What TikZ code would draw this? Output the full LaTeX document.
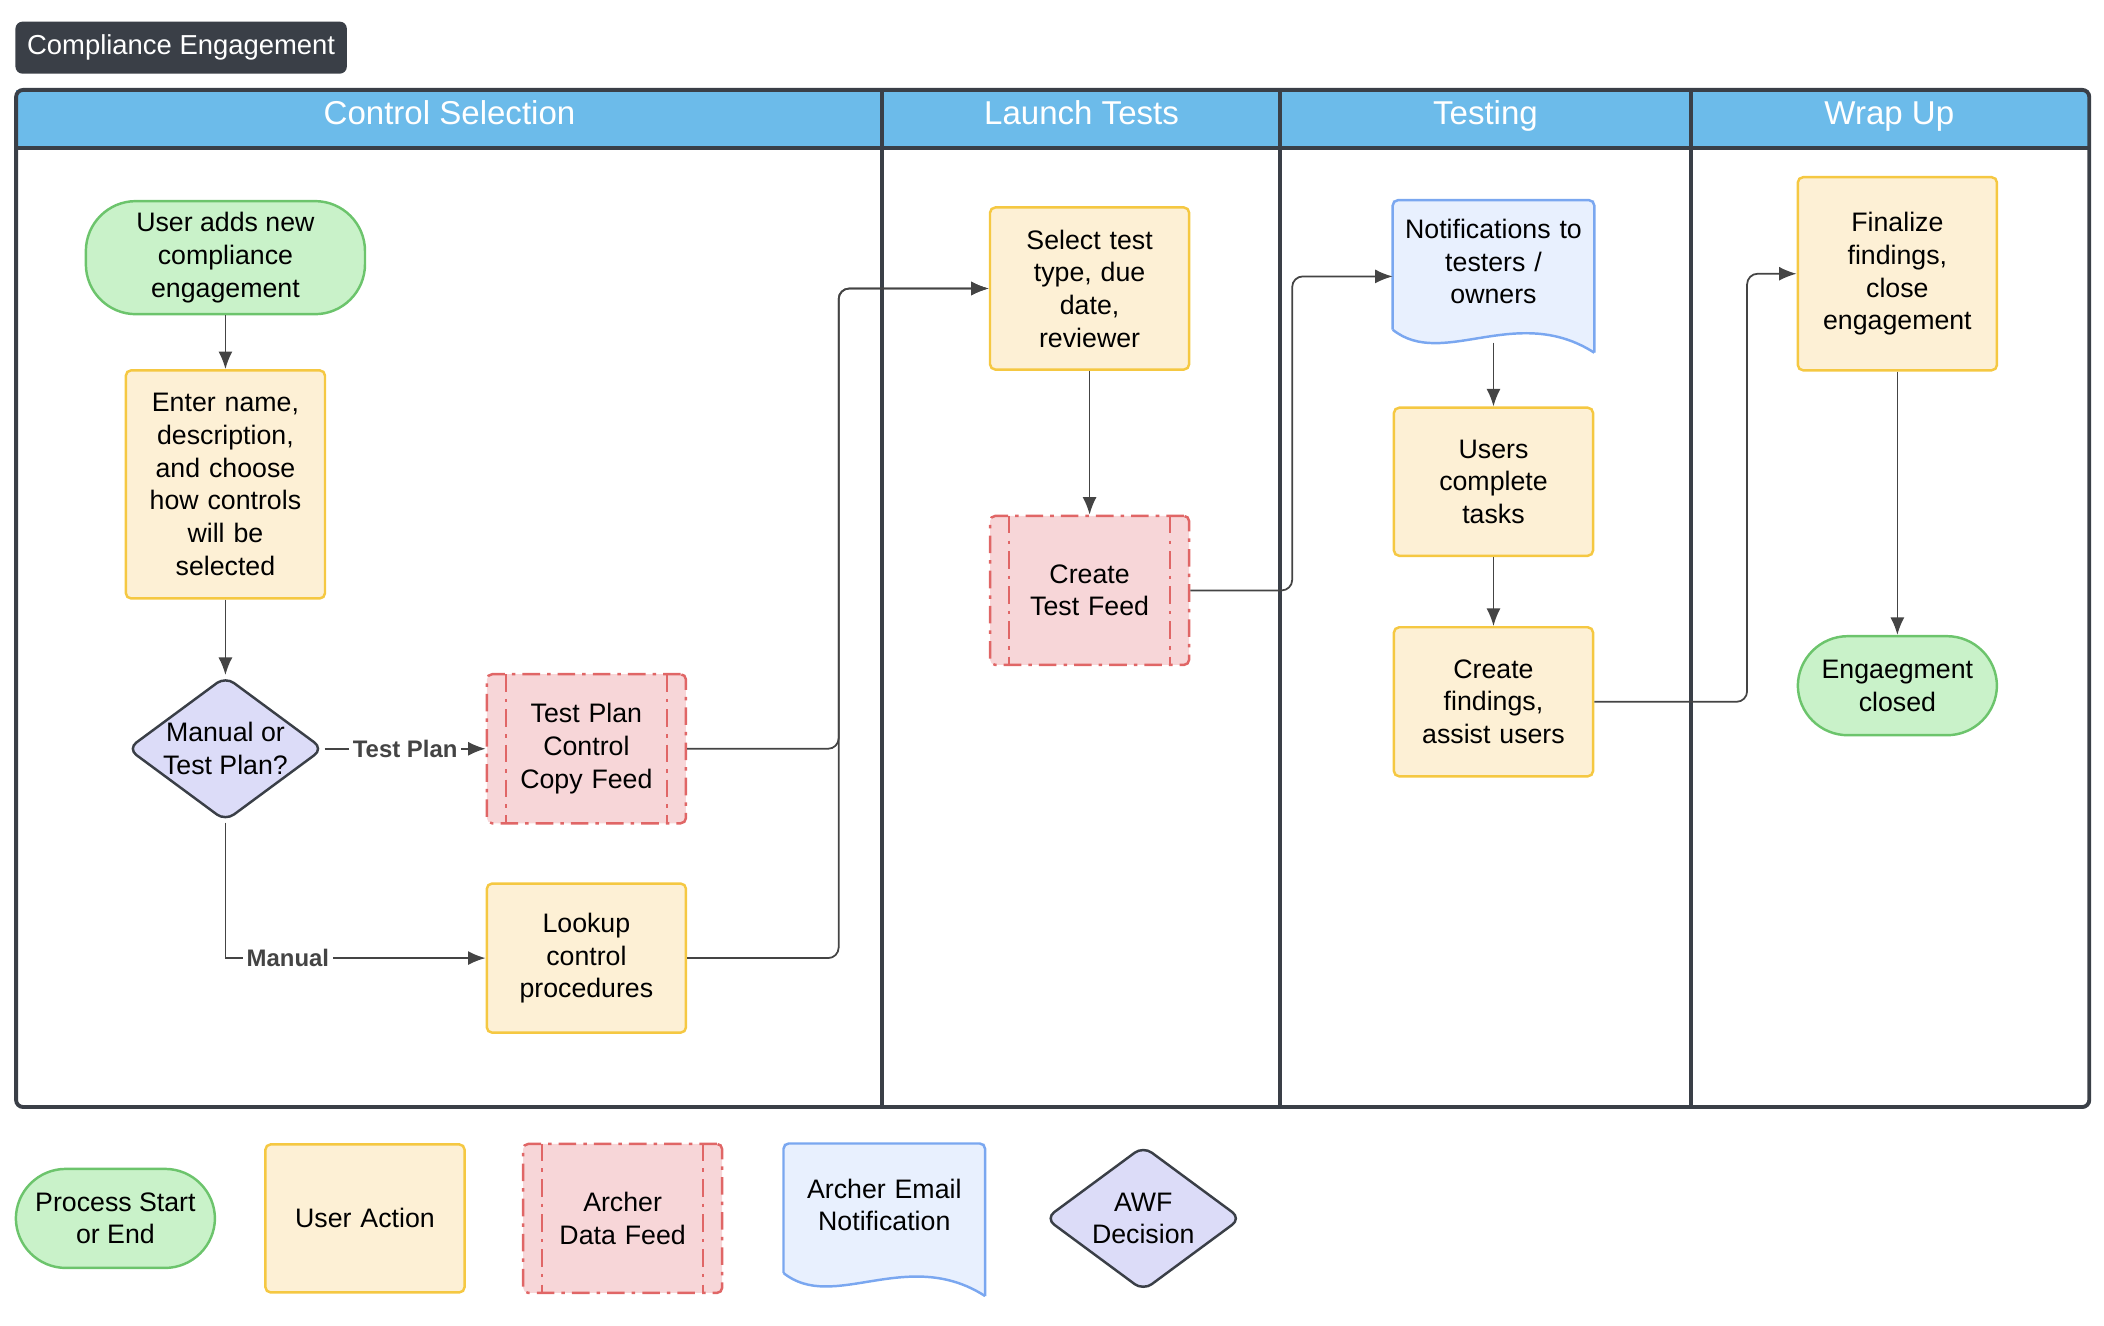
\documentclass[tikz,border=0pt]{standalone}
\usepackage{fontspec}
\setmainfont{Liberation Sans}
\usetikzlibrary{shapes.geometric,arrows.meta,positioning}
\definecolor{headblue}{HTML}{6CBBEA}
\definecolor{titlegray}{HTML}{3A3F47}
\definecolor{startfill}{HTML}{C9F2C9}
\definecolor{startline}{HTML}{6CC46C}
\definecolor{actfill}{HTML}{FDF0D5}
\definecolor{actline}{HTML}{F5C842}
\definecolor{feedfill}{HTML}{F7D6D8}
\definecolor{feedline}{HTML}{E06666}
\definecolor{docfill}{HTML}{E8F0FE}
\definecolor{docline}{HTML}{7AA7F0}
\definecolor{decfill}{HTML}{DCDCF8}
\definecolor{edgegray}{HTML}{444444}
\tikzset{
  base/.style={font=\fontsize{7.6}{9.3}\selectfont, align=center, line width=0.7pt, inner sep=2pt},
  startend/.style={base, draw=startline, fill=startfill, rounded corners=0.5cm, minimum width=1.99cm},
  action/.style={base, draw=actline, fill=actfill, rounded corners=1.5pt, minimum width=1.99cm, text width=1.85cm},
  feed/.style={base, draw=feedline, fill=feedfill, rounded corners=1.5pt, minimum width=1.99cm, minimum height=1.49cm, text width=1.5cm,
    dash pattern=on 5pt off 2pt on 1pt off 2pt,
    path picture={\draw[feedline,line width=0.6pt,dash pattern=on 5pt off 2pt on 1pt off 2pt]
      ([xshift=0.19cm]path picture bounding box.north west) -- ([xshift=0.19cm]path picture bounding box.south west)
      ([xshift=-0.19cm]path picture bounding box.north east) -- ([xshift=-0.19cm]path picture bounding box.south east);}},
  decision/.style={base, diamond, draw=titlegray, fill=decfill, rounded corners=3pt, minimum width=1.96cm, minimum height=1.45cm, inner sep=0pt, aspect=1.35},
  doc/.style={base, minimum width=1.99cm, minimum height=1.5cm, inner sep=0pt},
  arr/.style={draw=edgegray, line width=0.5pt, -{Latex[length=5pt,width=4pt]}},
  elabel/.style={font=\fontsize{6.8}{8}\selectfont\bfseries, text=edgegray, fill=white, inner sep=1pt},
  head/.style={font=\fontsize{9.4}{11}\selectfont, text=white, anchor=base}
}
\newcommand{\docborder}[1]{%
  \fill[docfill] ([yshift=0.23cm]#1.south west) -- (#1.north west) -- (#1.north east) -- (#1.south east)
    .. controls ([xshift=0.23cm,yshift=0.5cm]#1.south) and ([xshift=-0.51cm,yshift=-0.17cm]#1.south) .. ([yshift=0.23cm]#1.south west);
  \draw[docline,line width=0.7pt,rounded corners=1.5pt] ([yshift=0.23cm]#1.south west) -- (#1.north west) -- (#1.north east) -- (#1.south east);
  \draw[docline,line width=0.7pt] (#1.south east)
    .. controls ([xshift=0.23cm,yshift=0.5cm]#1.south) and ([xshift=-0.51cm,yshift=-0.17cm]#1.south) .. ([yshift=0.23cm]#1.south west);
}
\begin{document}
\begin{tikzpicture}[x=0.01342cm, y=-0.01342cm]
  \useasboundingbox (0,0) rectangle (1568,988);
  %--- Title and lanes ---
  \node[fill=titlegray, rounded corners=2pt, text=white, font=\fontsize{7.8}{10}\selectfont, minimum width=3.3cm, minimum height=0.52cm] (title) at (135,35.5) {Compliance Engagement};
  \fill[headblue] (12,67) rectangle (1557,110);
  \draw[titlegray, line width=1.1pt, rounded corners=2pt] (12,67) rectangle (1557,825);
  \draw[titlegray, line width=1.1pt] (12,110) -- (1557,110);
  \foreach \x in {657,954,1260} \draw[titlegray, line width=1.1pt] (\x,67) -- (\x,825);
  \node[head] (h1) at (335,93) {Control Selection};
  \node[head] (h2) at (806,93) {Launch Tests};
  \node[head] (h3) at (1107,93) {Testing};
  \node[head] (h4) at (1408,93) {Wrap Up};
  %--- Control Selection ---
  \node[startend, minimum width=2.79cm, minimum height=1.13cm] (start) at (168,192) {User adds new\\compliance\\engagement};
  \node[action, minimum height=2.28cm] (enter) at (168,361) {Enter name,\\description,\\and choose\\how controls\\will be\\selected};
  \node[decision] (choice) at (168,558) {Manual or\\Test Plan?};
  \node[feed] (copyfeed) at (437,558) {Test Plan\\Control\\Copy Feed};
  \node[action, minimum height=1.49cm] (lookup) at (437,714) {Lookup\\control\\procedures};
  %--- Launch Tests ---
  \node[action, minimum height=1.62cm] (select) at (812,215) {Select test\\type, due\\date,\\reviewer};
  \node[feed] (testfeed) at (812,440) {Create\\Test Feed};
  %--- Testing ---
  \node[doc] (notify) at (1113,206) {};
  \docborder{notify}
  \node[base, text width=1.9cm] (notifytext) at (1113,195) {Notifications to\\testers /\\owners};
  \node[action, minimum height=1.48cm] (complete) at (1113,359) {Users\\complete\\tasks};
  \node[action, minimum height=1.49cm] (findings) at (1113,523) {Create\\findings,\\assist users};
  %--- Wrap Up ---
  \node[action, minimum height=1.93cm] (finalize) at (1414,204) {Finalize\\findings,\\close\\engagement};
  \node[startend, minimum height=0.99cm] (closed) at (1414,511) {Engaegment\\closed};
  %--- Connectors ---
  \draw[arr] (start) -- (enter);
  \draw[arr] (enter) -- (choice);
  \draw[arr] (choice) -- node[elabel] {Test Plan} (copyfeed);
  \draw[arr] (choice.south) |- node[elabel, pos=0.62] {Manual} (lookup);
  \draw[arr, rounded corners=3pt] (copyfeed.east) -| (625,215) -- (select.west);
  \draw[arr, rounded corners=3pt] (lookup.east) -| (625,215) -- (select.west);
  \draw[arr] (select) -- (testfeed);
  \draw[arr, rounded corners=3pt] (testfeed.east) -| (963,206) -- (notify.west);
  \draw[arr] ([yshift=0.1cm]notify.south) -- (complete);
  \draw[arr] (complete) -- (findings);
  \draw[arr, rounded corners=3pt] (findings.east) -| (1302,204) -- (finalize.west);
  \draw[arr] (finalize) -- (closed);
  %--- Legend ---
  \node[startend, minimum height=0.99cm] (legstart) at (86,908) {Process Start\\or End};
  \node[action, minimum height=1.48cm] (legaction) at (272,908) {User Action};
  \node[feed] (legfeed) at (464,908) {Archer\\Data Feed};
  \node[doc] (legdoc) at (659,909) {};
  \docborder{legdoc}
  \node[base, text width=1.9cm] (legdoctext) at (659,898) {Archer Email\\Notification};
  \node[decision] (legdec) at (852,908) {AWF\\Decision};
\end{tikzpicture}
\end{document}
